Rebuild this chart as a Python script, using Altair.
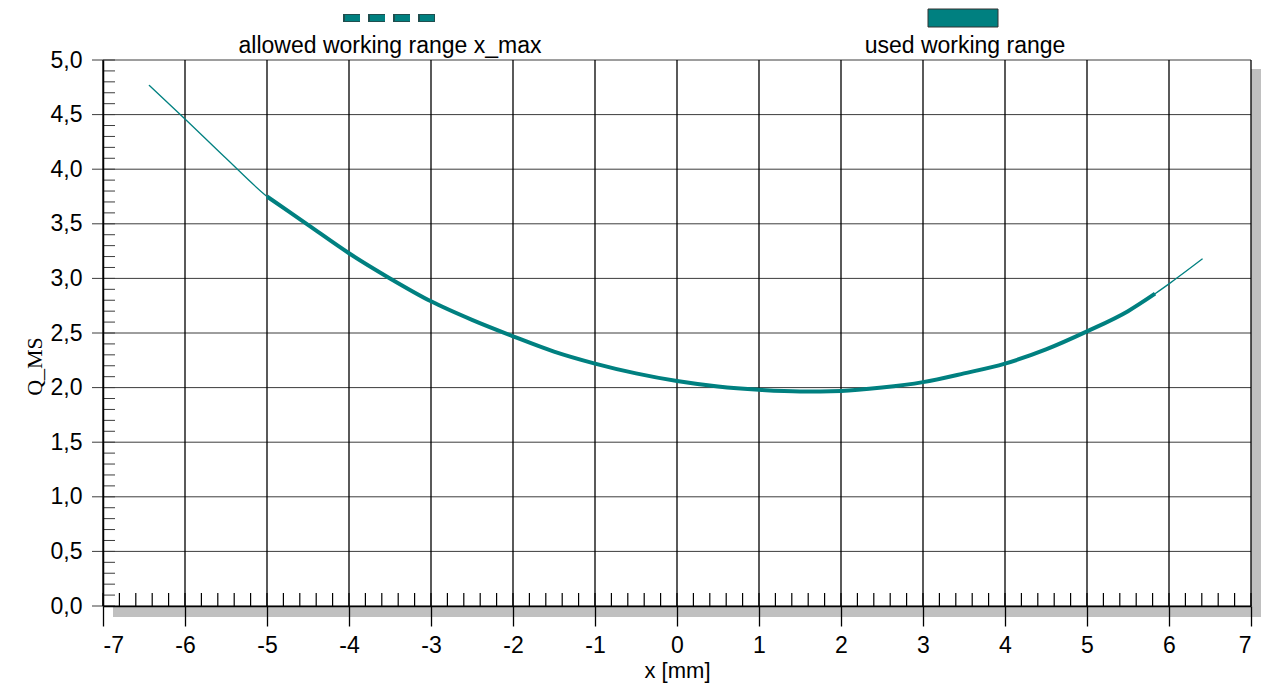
import altair as alt
import pandas as pd

# Q_MS characteristic over the stroke x [mm]
x_mm = [-6.44, -6.0, -5.5, -5.0, -4.5, -4.0, -3.5, -3.0, -2.5, -2.0, -1.5, -1.0,
        -0.5, 0.0, 0.5, 1.0, 1.5, 2.0, 2.5, 3.0, 3.5, 4.0, 4.5, 5.0, 5.5, 5.83,
        6.0, 6.41]
q_ms = [4.77, 4.46, 4.10, 3.75, 3.49, 3.23, 3.00, 2.79, 2.62, 2.47, 2.33, 2.22,
        2.13, 2.06, 2.01, 1.98, 1.965, 1.97, 2.00, 2.05, 2.13, 2.22, 2.35, 2.515,
        2.70, 2.86, 2.95, 3.18]

# used working range limits [mm]
used_from = -5.0
used_to = 5.83

legend_labels = ["allowed working range x_max", "used working range"]

x_ticks = list(range(-7, 8))
y_ticks = [i * 0.5 for i in range(11)]
x_minor = [round(-7 + i * 0.2, 1) for i in range(71)]
y_minor = [round(i * 0.1, 1) for i in range(51)]

W, H = 1148, 546
FONT = "Liberation Sans"
FS = 23
TEAL = "#008080"

curve = pd.DataFrame({"x": x_mm, "q": q_ms})
used = curve[(curve.x >= used_from) & (curve.x <= used_to)]

xscale = alt.Scale(domain=[-7, 7], nice=False, zero=False)
yscale = alt.Scale(domain=[0, 5], nice=False, zero=False)

x_axis = alt.Axis(
    values=x_ticks, title="x [mm]", grid=False, zindex=1,
    domain=True, domainColor="#000", domainWidth=1.5,
    ticks=True, tickSize=20, tickColor="#000", tickWidth=1.3,
    labelExpr="'' + datum.value", labelFont=FONT, labelFontSize=FS,
    labelColor="#000", labelPadding=8,
    titleFont=FONT, titleFontSize=22, titleFontWeight="normal",
    titleColor="#000", titleBaseline="middle", titleY=64,
)
y_axis = alt.Axis(
    values=y_ticks, title="Q_MS", grid=False, zindex=1,
    domain=True, domainColor="#000", domainWidth=1.5, ticks=False,
    labelExpr="replace(format(datum.value, '.1f'), '.', ',')",
    labelFont=FONT, labelFontSize=FS, labelColor="#000", labelPadding=21,
    titleFont="Liberation Sans Narrow", titleFontSize=22,
    titleFontWeight="normal", titleColor="#000", titleAngle=270,
    titleX=-69, titleY=306, titleAlign="center", titleBaseline="middle",
)


def X(field):
    return alt.X(field, type="quantitative", scale=xscale, axis=x_axis)


def Y(field):
    return alt.Y(field, type="quantitative", scale=yscale, axis=y_axis)


one = pd.DataFrame({"k": [0]})

# drop shadow of the plot frame
shadow_bottom = alt.Chart(one).mark_rect(color="#c0c0c0").encode(
    x=alt.value(10), x2=alt.value(W + 10), y=alt.value(H), y2=alt.value(H + 11))
shadow_right = alt.Chart(one).mark_rect(color="#c0c0c0").encode(
    x=alt.value(W), x2=alt.value(W + 10), y=alt.value(9), y2=alt.value(H + 11))

# grid
h_grid = alt.Chart(pd.DataFrame({"v": y_ticks})).mark_rule(
    color="#3c3c3c", strokeWidth=1).encode(
    y=Y("v"), x=alt.value(-11), x2=alt.value(W))
v_grid = alt.Chart(pd.DataFrame({"v": x_ticks})).mark_rule(
    color="#000", strokeWidth=1.3).encode(
    x=X("v"), y=alt.value(0), y2=alt.value(H))

# minor ticks inside the frame
y_minor_ticks = alt.Chart(pd.DataFrame({"v": y_minor})).mark_rule(
    color="#3c3c3c", strokeWidth=1).encode(
    y=Y("v"), x=alt.value(0), x2=alt.value(12))
x_minor_ticks = alt.Chart(pd.DataFrame({"v": x_minor})).mark_rule(
    color="#000", strokeWidth=1.2).encode(
    x=X("v"), y=alt.value(H - 13), y2=alt.value(H))

# characteristic
full_line = alt.Chart(curve).mark_line(
    color=TEAL, strokeWidth=1.3, interpolate="monotone").encode(
    x=X("x"), y=Y("q"))
used_line = alt.Chart(used).mark_line(
    color=TEAL, strokeWidth=4, interpolate="monotone").encode(
    x=X("x"), y=Y("q"))

# legend
leg_dash = alt.Chart(one).mark_rule(
    color="#1f4f4f", strokeWidth=8, strokeDash=[17, 8]).encode(
    x=alt.value(240), x2=alt.value(332), y=alt.value(-42))
leg_dash_fill = alt.Chart(one).mark_rule(
    color=TEAL, strokeWidth=6, strokeDash=[15, 10], strokeDashOffset=-1).encode(
    x=alt.value(241), x2=alt.value(331), y=alt.value(-42))
leg_box = alt.Chart(one).mark_rect(
    color=TEAL, stroke="#333", strokeWidth=1).encode(
    x=alt.value(825), x2=alt.value(895), y=alt.value(-51), y2=alt.value(-33))
leg_text1 = alt.Chart(pd.DataFrame({"t": [legend_labels[0]]})).mark_text(
    font=FONT, fontSize=FS, color="#000", align="center",
    baseline="middle").encode(text="t:N", x=alt.value(287), y=alt.value(-14))
leg_text2 = alt.Chart(pd.DataFrame({"t": [legend_labels[1]]})).mark_text(
    font=FONT, fontSize=FS, color="#000", align="center",
    baseline="middle").encode(text="t:N", x=alt.value(862), y=alt.value(-14))

chart = alt.layer(
    shadow_bottom, shadow_right, h_grid, v_grid, y_minor_ticks, x_minor_ticks,
    full_line, used_line, leg_dash, leg_dash_fill, leg_box, leg_text1, leg_text2,
).properties(
    width=W, height=H,
    autosize=alt.AutoSizeParams(type="none"),
    padding={"left": 103, "top": 60, "right": 13, "bottom": 79},
    background="white",
).configure_view(strokeWidth=0)

chart.save("out.html", embed_options={"renderer": "svg", "actions": False})
